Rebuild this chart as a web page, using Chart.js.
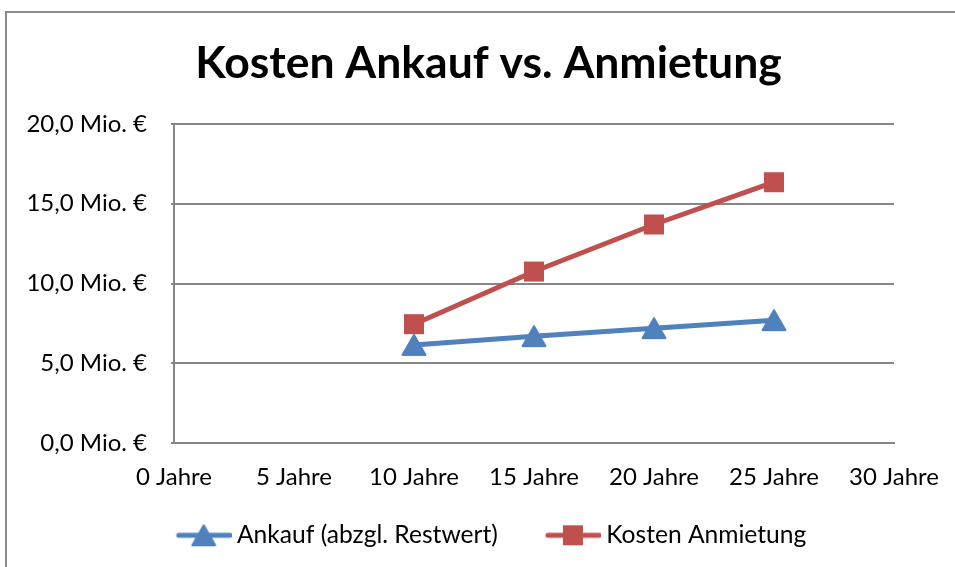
<!DOCTYPE html>
<html>
<head>
<meta charset="utf-8">
<script src="https://cdn.jsdelivr.net/npm/chart.js@4.4.0/dist/chart.umd.min.js"></script>
<style>
  html, body { margin: 0; padding: 0; background: #fff; }
  #wrap { position: relative; width: 955px; height: 567px; overflow: hidden; }
  #frame { position: absolute; left: 5px; top: 11px; width: 1000px; height: 700px;
           border-left: 2px solid #8a8a8a; border-top: 2px solid #8a8a8a; box-sizing: border-box; pointer-events: none; }
  canvas { position: absolute; left: 0; top: 0; }
</style>
</head>
<body>
<div id="wrap">
  <canvas id="c" width="955" height="567"></canvas>
  <div id="frame"></div>
</div>
<script>
const titleText = 'Kosten Ankauf vs. Anmietung';
const years = [10, 15, 20, 25];
const ankauf = [6.15, 6.7, 7.2, 7.7];
const anmietung = [7.45, 10.75, 13.7, 16.35];
const seriesNames = ['Ankauf (abzgl. Restwert)', 'Kosten Anmietung'];
const xTicks = [0, 5, 10, 15, 20, 25, 30];
const yTicks = [0, 5, 10, 15, 20];

const BLUE = '#4F81BD';
const RED = '#C0504D';
const FONT = 'Lato, "Open Sans", sans-serif';

function drawMarker(g, color, style, cx, cy) {
  g.fillStyle = color; g.strokeStyle = color;
  if (style === 'triangle') {
    g.lineJoin = 'round'; g.lineWidth = 2;
    g.beginPath(); g.moveTo(cx, cy - 10); g.lineTo(cx + 11.5, cy + 10); g.lineTo(cx - 11.5, cy + 10); g.closePath();
    g.fill(); g.stroke();
  } else {
    g.fillRect(cx - 10, cy - 10, 20, 20);
  }
}
function markerImg(color, style) {
  const c = document.createElement('canvas');
  c.width = 30; c.height = 30;
  drawMarker(c.getContext('2d'), color, style, 15, 15);
  return c;
}
// legend icon: box width 78 (pointStyleWidth); canvas 92 wide centred on the box centre
function legendIcon(color, style) {
  const c = document.createElement('canvas');
  c.width = 92; c.height = 28;
  const g = c.getContext('2d');
  g.strokeStyle = color; g.lineWidth = 5; g.lineCap = 'round';
  g.beginPath(); g.moveTo(39, 14); g.lineTo(90, 14); g.stroke();
  drawMarker(g, color, style, 64, 14);
  return c;
}
const markers = [markerImg(BLUE, 'triangle'), markerImg(RED, 'rect')];
const icons = [legendIcon(BLUE, 'triangle'), legendIcon(RED, 'rect')];

const toPts = (xs, ys) => xs.map((x, i) => ({ x: x, y: ys[i] }));

const legendShift = {
  id: 'legendShift',
  afterLayout(chart) {
    const l = chart.legend;
    if (l) { l.left -= 12; l.right -= 12; }
  }
};

new Chart(document.getElementById('c'), {
  type: 'line',
  data: {
    datasets: [
      { label: seriesNames[0], data: toPts(years, ankauf), borderColor: BLUE, backgroundColor: BLUE,
        borderWidth: 5, pointStyle: markers[0], pointRadius: 12, pointHoverRadius: 12,
        borderCapStyle: 'round', tension: 0, yAxisID: 'y' },
      { label: seriesNames[1], data: toPts(years, anmietung), borderColor: RED, backgroundColor: RED,
        borderWidth: 5, pointStyle: markers[1], pointRadius: 12, pointHoverRadius: 12,
        borderCapStyle: 'round', tension: 0, yAxisID: 'y' }
    ]
  },
  plugins: [legendShift],
  options: {
    responsive: false,
    animation: false,
    devicePixelRatio: 1,
    layout: { padding: { left: 22, right: 0, top: 0, bottom: 9.4 } },
    scales: {
      x: {
        type: 'linear', min: 0, max: 30,
        afterBuildTicks: s => { s.ticks = xTicks.map(v => ({ value: v })); },
        afterFit: s => { s.height = 62; },
        grid: { display: false },
        border: { display: true, color: '#868686', width: 2 },
        ticks: { padding: 12, color: '#000', font: { family: FONT, size: 24 },
                 maxRotation: 0, autoSkip: false, callback: v => v + ' Jahre' }
      },
      y: {
        position: 'left', min: 0, max: 20,
        afterBuildTicks: s => { s.ticks = yTicks.map(v => ({ value: v })); },
        afterFit: s => { s.width = 152; },
        grid: { color: '#868686', lineWidth: 2, tickLength: 3, drawTicks: true },
        border: { display: true, color: '#868686', width: 2 },
        ticks: { padding: 24, color: '#000', font: { family: FONT, size: 24 },
                 callback: v => v.toFixed(1).replace('.', ',') + ' Mio. €' }
      },
      yRight: {
        position: 'right', min: 0, max: 20, display: true,
        afterFit: s => { s.width = 61; },
        grid: { display: false, drawOnChartArea: false },
        border: { display: false },
        ticks: { display: false }
      }
    },
    plugins: {
      title: { display: true, text: titleText, color: '#000',
               font: { family: FONT, size: 44.5, weight: 'bold' },
               padding: { top: 37, bottom: 33.6 } },
      legend: {
        position: 'bottom',
        labels: {
          color: '#000', font: { family: FONT, size: 24.6 },
          usePointStyle: true, pointStyleWidth: 78, padding: 18,
          generateLabels: chart => chart.data.datasets.map((d, i) => ({
            text: d.label, pointStyle: icons[i], fillStyle: d.borderColor,
            strokeStyle: d.borderColor, lineWidth: 0, datasetIndex: i, hidden: false, fontColor: '#000'
          }))
        }
      },
      tooltip: { enabled: false }
    }
  }
});
</script>
</body>
</html>
